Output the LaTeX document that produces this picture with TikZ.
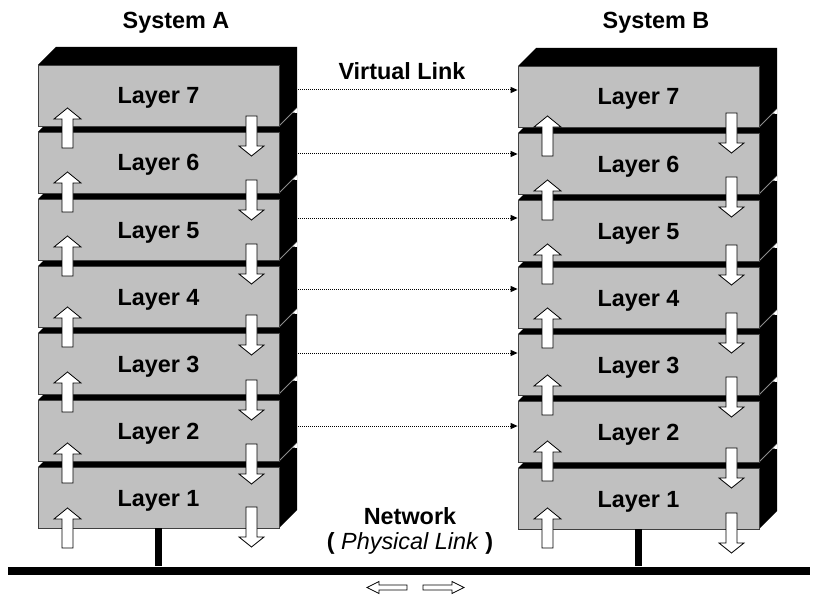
\documentclass[tikz,border=0pt]{standalone}
\usepackage{fontspec}
\setmainfont{Liberation Sans}
\usetikzlibrary{arrows.meta,calc}

\definecolor{silver}{RGB}{192,192,192}
\newcommand\layerfont{\fontsize{23.4pt}{28pt}\selectfont\bfseries}

\tikzset{
  shell/.style={fill=black},
  front/.style={draw=black!75, line width=0.8pt, fill=silver,
    minimum width=241pt, minimum height=61pt, inner sep=0pt,
    text height=17pt, text depth=0pt, font=\layerfont},
  seam/.style={draw=black!45, line width=0.8pt},
  blockarrow/.style={fill=white, draw=black, line width=0.8pt, line join=miter},
  vlink/.style={line width=1pt, dash pattern=on 1pt off 1pt,
    -{Triangle[length=7pt,width=6pt]}},
  label/.style={font=\layerfont, inner sep=0pt},
  drop/.style={line width=7pt},
}

\begin{document}
\begin{tikzpicture}[x=1pt,y=-1pt]
\useasboundingbox (0,0) rectangle (817,607);
\fill[white] (0,0) rectangle (817,607);

% two protocol stacks, drawn bottom layer first
\foreach \sys/\ox/\oy in {A/38/0, B/518/1} {
  \foreach \k in {1,...,7} {
    \pgfmathsetmacro\T{65+67*(7-\k)+\oy}
    \pgfmathsetmacro\B{\T+61}
    \pgfmathsetmacro\xr{\ox+241}
    \pgfmathsetmacro\ext{ifthenelse(\k>1,6,0)}
    % top and side faces of the block
    \fill[shell] (\ox,\T) -- ++(18,-18) -- (\xr+18,\T-18)
      -- (\xr+18,\B+\ext-18) -- (\xr,\B+\ext) -- (\xr,\T) -- cycle;
    \ifnum\k>1
      \draw[seam] (\xr,\B) -- (\xr+18,\B-18);
      \fill[white] (\xr+18.4,\B-18) -- (\xr+18.4,\B-13) -- (\xr+14,\B-13.5) -- cycle;
    \fi
    % front face
    \node[front] (\sys\k) at (\ox+120.5,\T+30.5) {Layer \k};
  }
}

% data going up the stacks
\foreach \cx/\t in {67.5/108,67.5/172,67.5/236,67.5/307,67.5/372,67.5/443,67.5/508,
                    547.5/116,547.5/180,547.5/244,547.5/308,547.5/375,547.5/441,547.5/508} {
  \draw[blockarrow] (\cx,\t) -- ++(13.5,11) -- ++(-8,0) -- ++(0,29)
    -- ++(-11,0) -- ++(0,-29) -- ++(-8,0) -- cycle;
}
% data going down the stacks
\foreach \cx/\s in {251.5/116,251.5/180,251.5/244,251.5/315,251.5/380,251.5/444,251.5/507,
                    731.5/113,731.5/177,731.5/245,731.5/313,731.5/377,731.5/448,731.5/513} {
  \draw[blockarrow] (\cx-5.5,\s) -- ++(11,0) -- ++(0,30) -- ++(7,0)
    -- ++(-12.5,10) -- ++(-12.5,-10) -- ++(7,0) -- cycle;
}

% virtual links between peer layers
\foreach \k/\off in {7/-5.5,6/-8.5,5/-11.5,4/-7.5,3/-10.5,2/-4.5} {
  \draw[vlink] ($(A\k.east)+(19,\off)$) -- ($(B\k.west)+(0,\off-1)$);
}

% titles
\node[label, anchor=base] (sysA) at (176,29) {System A};
\node[label, anchor=base] (sysB) at (656,29) {System B};
\node[label, anchor=base] (virt) at (402,80) {Virtual Link};

% physical network
\node[fill=black, minimum width=802pt, minimum height=8pt, inner sep=0pt] (bus) at (409,570.5) {};
\draw[drop] (A1.south) -- (A1.south |- bus.north);
\draw[drop] (B1.south) -- (B1.south |- bus.north);
\node[label, anchor=base] (net) at (410,524.5) {Network};
\node[label, anchor=base] (phys) at (410,549) {( \textit{\mdseries Physical Link} )};

% signal direction on the wire
\draw[blockarrow] (367,587.5) -- ++(12,-6) -- ++(0,3.5) -- ++(28,0) -- ++(0,5)
  -- ++(-28,0) -- ++(0,3.5) -- cycle;
\draw[blockarrow] (464,587.5) -- ++(-12,-6) -- ++(0,3.5) -- ++(-29,0) -- ++(0,5)
  -- ++(29,0) -- ++(0,3.5) -- cycle;
\end{tikzpicture}
\end{document}
